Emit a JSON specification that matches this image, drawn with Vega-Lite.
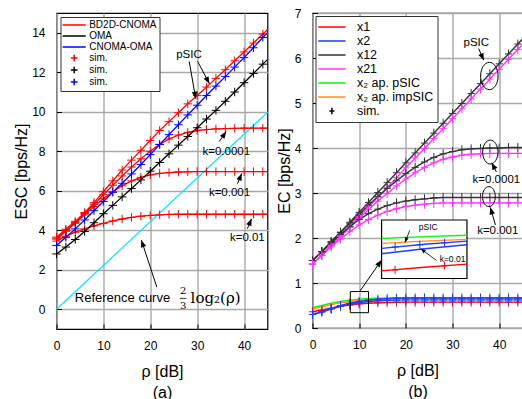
{
"$schema": "https://vega.github.io/schema/vega-lite/v6.json",
"padding": {"left": 11.5, "top": 6, "right": 0, "bottom": 0},
"background": "white",
"spacing": 45,
"bounds": "flush",
"resolve": {"scale": {"x": "independent", "y": "independent", "color": "independent", "size": "independent"}, "legend": {"color": "independent"}},
"config": {
  "font": "Liberation Sans",
  "view": {"stroke": "black", "strokeWidth": 1.2},
  "axis": {"domain": false, "tickColor": "black", "tickSize": -5, "tickWidth": 1, "labelFontSize": 12, "labelColor": "black", "labelPadding": 16.5, "labelFlush": false, "labelOverlap": false, "titleFontSize": 16, "titleFontWeight": "normal", "titleColor": "black", "gridColor": "#a8a8a8", "gridWidth": 1.4},
  "text": {"color": "black"}
},
"datasets": {
  "ref": [{"x": 0, "y": 0}, {"x": 45, "y": 9.97}],
  "Lmeta": [
    {"s": "r0", "leg": "BD2D-CNOMA", "sim": "sim1"},
    {"s": "r4", "leg": "BD2D-CNOMA", "sim": "sim1"},
    {"s": "r3", "leg": "BD2D-CNOMA", "sim": "sim1"},
    {"s": "r2", "leg": "BD2D-CNOMA", "sim": "sim1"},
    {"s": "k", "leg": "OMA", "sim": "sim2"},
    {"s": "b", "leg": "CNOMA-OMA", "sim": "sim3"}
  ],
  "L": [
    {"s":"r0","x":0,"y":3.65},{"s":"r0","x":2,"y":4.05},{"s":"r0","x":4,"y":4.45},{"s":"r0","x":6,"y":4.9},{"s":"r0","x":8,"y":5.4},{"s":"r0","x":10,"y":5.95},{"s":"r0","x":12,"y":6.5},{"s":"r0","x":14,"y":7.05},{"s":"r0","x":16,"y":7.55},{"s":"r0","x":18,"y":8.05},{"s":"r0","x":20,"y":8.55},{"s":"r0","x":22,"y":9.05},{"s":"r0","x":24,"y":9.5},{"s":"r0","x":26,"y":9.95},{"s":"r0","x":28,"y":10.4},{"s":"r0","x":30,"y":10.82},{"s":"r0","x":32,"y":11.25},{"s":"r0","x":34,"y":11.69},{"s":"r0","x":36,"y":12.13},{"s":"r0","x":38,"y":12.58},{"s":"r0","x":40,"y":13.03},{"s":"r0","x":42,"y":13.48},{"s":"r0","x":44,"y":13.93},{"s":"r0","x":45,"y":14.15},
    {"s":"r4","x":0,"y":3.6},{"s":"r4","x":2,"y":4.0},{"s":"r4","x":4,"y":4.4},{"s":"r4","x":6,"y":4.85},{"s":"r4","x":8,"y":5.32},{"s":"r4","x":10,"y":5.8},{"s":"r4","x":12,"y":6.28},{"s":"r4","x":14,"y":6.75},{"s":"r4","x":16,"y":7.2},{"s":"r4","x":18,"y":7.62},{"s":"r4","x":20,"y":8.0},{"s":"r4","x":22,"y":8.35},{"s":"r4","x":24,"y":8.62},{"s":"r4","x":26,"y":8.82},{"s":"r4","x":28,"y":8.96},{"s":"r4","x":30,"y":9.05},{"s":"r4","x":32,"y":9.1},{"s":"r4","x":34,"y":9.13},{"s":"r4","x":36,"y":9.15},{"s":"r4","x":38,"y":9.16},{"s":"r4","x":40,"y":9.17},{"s":"r4","x":42,"y":9.17},{"s":"r4","x":44,"y":9.17},{"s":"r4","x":45,"y":9.17},
    {"s":"r3","x":0,"y":3.55},{"s":"r3","x":2,"y":3.95},{"s":"r3","x":4,"y":4.35},{"s":"r3","x":6,"y":4.78},{"s":"r3","x":8,"y":5.2},{"s":"r3","x":10,"y":5.6},{"s":"r3","x":12,"y":5.95},{"s":"r3","x":14,"y":6.25},{"s":"r3","x":16,"y":6.5},{"s":"r3","x":18,"y":6.68},{"s":"r3","x":20,"y":6.8},{"s":"r3","x":22,"y":6.88},{"s":"r3","x":24,"y":6.92},{"s":"r3","x":26,"y":6.95},{"s":"r3","x":28,"y":6.96},{"s":"r3","x":30,"y":6.97},{"s":"r3","x":32,"y":6.97},{"s":"r3","x":34,"y":6.97},{"s":"r3","x":36,"y":6.97},{"s":"r3","x":38,"y":6.97},{"s":"r3","x":40,"y":6.97},{"s":"r3","x":42,"y":6.97},{"s":"r3","x":44,"y":6.97},{"s":"r3","x":45,"y":6.97},
    {"s":"r2","x":0,"y":3.45},{"s":"r2","x":2,"y":3.7},{"s":"r2","x":4,"y":3.9},{"s":"r2","x":6,"y":4.07},{"s":"r2","x":8,"y":4.22},{"s":"r2","x":10,"y":4.35},{"s":"r2","x":12,"y":4.47},{"s":"r2","x":14,"y":4.57},{"s":"r2","x":16,"y":4.65},{"s":"r2","x":18,"y":4.71},{"s":"r2","x":20,"y":4.75},{"s":"r2","x":22,"y":4.78},{"s":"r2","x":24,"y":4.8},{"s":"r2","x":26,"y":4.81},{"s":"r2","x":28,"y":4.81},{"s":"r2","x":30,"y":4.81},{"s":"r2","x":32,"y":4.81},{"s":"r2","x":34,"y":4.81},{"s":"r2","x":36,"y":4.81},{"s":"r2","x":38,"y":4.81},{"s":"r2","x":40,"y":4.81},{"s":"r2","x":42,"y":4.81},{"s":"r2","x":44,"y":4.81},{"s":"r2","x":45,"y":4.81},
    {"s":"k","x":0,"y":2.8},{"s":"k","x":2,"y":3.15},{"s":"k","x":4,"y":3.53},{"s":"k","x":6,"y":3.94},{"s":"k","x":8,"y":4.38},{"s":"k","x":10,"y":4.84},{"s":"k","x":12,"y":5.26},{"s":"k","x":14,"y":5.69},{"s":"k","x":16,"y":6.11},{"s":"k","x":18,"y":6.55},{"s":"k","x":20,"y":6.99},{"s":"k","x":22,"y":7.43},{"s":"k","x":24,"y":7.87},{"s":"k","x":26,"y":8.31},{"s":"k","x":28,"y":8.75},{"s":"k","x":30,"y":9.19},{"s":"k","x":32,"y":9.63},{"s":"k","x":34,"y":10.07},{"s":"k","x":36,"y":10.53},{"s":"k","x":38,"y":11.0},{"s":"k","x":40,"y":11.47},{"s":"k","x":42,"y":11.94},{"s":"k","x":44,"y":12.41},{"s":"k","x":45,"y":12.64},
    {"s":"b","x":0,"y":3.23},{"s":"b","x":2,"y":3.64},{"s":"b","x":4,"y":4.07},{"s":"b","x":6,"y":4.52},{"s":"b","x":8,"y":4.99},{"s":"b","x":10,"y":5.46},{"s":"b","x":12,"y":5.92},{"s":"b","x":14,"y":6.38},{"s":"b","x":16,"y":6.85},{"s":"b","x":18,"y":7.33},{"s":"b","x":20,"y":7.83},{"s":"b","x":22,"y":8.34},{"s":"b","x":24,"y":8.84},{"s":"b","x":26,"y":9.34},{"s":"b","x":28,"y":9.84},{"s":"b","x":30,"y":10.33},{"s":"b","x":32,"y":10.82},{"s":"b","x":34,"y":11.3},{"s":"b","x":36,"y":11.78},{"s":"b","x":38,"y":12.26},{"s":"b","x":40,"y":12.74},{"s":"b","x":42,"y":13.24},{"s":"b","x":44,"y":13.76},{"s":"b","x":45,"y":14.0}
  ],
  "Ltxt": [{"x":28.26,"y":12.87,"t":"pSIC"},{"x":36.2,"y":7.98,"t":"k=0.0001"},{"x":36.9,"y":5.9,"t":"k=0.001"},{"x":40.7,"y":3.62,"t":"k=0.01"}],
  "Lref": [{"x":3.9,"y":0.56,"t":"Reference curve"}],
  "Lfrac": [{"x":27.0,"y":0.9,"t":"2"},{"x":27.0,"y":0.18,"t":"3"}],
  "Llog": [{"x":28.6,"y":0.56,"t":"log₂(ρ)"}],
  "Lbar": [{"x":26.3,"x2":27.7,"y":0.55}],
  "Larr": [
    {"x":28.3,"y":12.55,"x2":29.7,"y2":10.66},
    {"x":30.1,"y":12.55,"x2":32.6,"y2":11.42},
    {"x":34.7,"y":8.49,"x2":36.2,"y2":9.0},
    {"x":38.6,"y":6.36,"x2":39.5,"y2":6.87},
    {"x":40.7,"y":4.08,"x2":41.6,"y2":4.58},
    {"x":21.4,"y":1.12,"x2":18.1,"y2":3.5}
  ],
  "Rmeta": [
    {"s":"a0","leg":"x12"},{"s":"a4","leg":"x12"},{"s":"a3","leg":"x12"},
    {"s":"b0","leg":"x21"},{"s":"b4","leg":"x21"},{"s":"b3","leg":"x21"},
    {"s":"x1","leg":"x1"},{"s":"x2","leg":"x2"},{"s":"x2b","leg":"x2"},
    {"s":"g","leg":"x₂ ap. pSIC"},{"s":"o","leg":"x₂ ap. impSIC"}
  ],
  "R": [
    {"s":"a0","x":0,"y":1.5},{"s":"a0","x":2,"y":1.7},{"s":"a0","x":4,"y":1.92},{"s":"a0","x":6,"y":2.13},{"s":"a0","x":8,"y":2.35},{"s":"a0","x":10,"y":2.57},{"s":"a0","x":12,"y":2.79},{"s":"a0","x":14,"y":3.01},{"s":"a0","x":16,"y":3.23},{"s":"a0","x":18,"y":3.45},{"s":"a0","x":20,"y":3.67},{"s":"a0","x":22,"y":3.89},{"s":"a0","x":24,"y":4.11},{"s":"a0","x":26,"y":4.33},{"s":"a0","x":28,"y":4.55},{"s":"a0","x":30,"y":4.77},{"s":"a0","x":32,"y":4.99},{"s":"a0","x":34,"y":5.21},{"s":"a0","x":36,"y":5.43},{"s":"a0","x":38,"y":5.65},{"s":"a0","x":40,"y":5.87},{"s":"a0","x":42,"y":6.09},{"s":"a0","x":44,"y":6.31},{"s":"a0","x":45,"y":6.42},
    {"s":"b0","x":0,"y":1.42},{"s":"b0","x":2,"y":1.62},{"s":"b0","x":4,"y":1.84},{"s":"b0","x":6,"y":2.05},{"s":"b0","x":8,"y":2.26},{"s":"b0","x":10,"y":2.48},{"s":"b0","x":12,"y":2.69},{"s":"b0","x":14,"y":2.91},{"s":"b0","x":16,"y":3.12},{"s":"b0","x":18,"y":3.34},{"s":"b0","x":20,"y":3.56},{"s":"b0","x":22,"y":3.78},{"s":"b0","x":24,"y":3.99},{"s":"b0","x":26,"y":4.21},{"s":"b0","x":28,"y":4.43},{"s":"b0","x":30,"y":4.65},{"s":"b0","x":32,"y":4.87},{"s":"b0","x":34,"y":5.09},{"s":"b0","x":36,"y":5.31},{"s":"b0","x":38,"y":5.53},{"s":"b0","x":40,"y":5.75},{"s":"b0","x":42,"y":5.97},{"s":"b0","x":44,"y":6.19},{"s":"b0","x":45,"y":6.3},
    {"s":"a4","x":0,"y":1.5},{"s":"a4","x":2,"y":1.7},{"s":"a4","x":4,"y":1.91},{"s":"a4","x":6,"y":2.12},{"s":"a4","x":8,"y":2.33},{"s":"a4","x":10,"y":2.53},{"s":"a4","x":12,"y":2.73},{"s":"a4","x":14,"y":2.92},{"s":"a4","x":16,"y":3.1},{"s":"a4","x":18,"y":3.27},{"s":"a4","x":20,"y":3.43},{"s":"a4","x":22,"y":3.57},{"s":"a4","x":24,"y":3.69},{"s":"a4","x":26,"y":3.79},{"s":"a4","x":28,"y":3.87},{"s":"a4","x":30,"y":3.92},{"s":"a4","x":32,"y":3.96},{"s":"a4","x":34,"y":3.98},{"s":"a4","x":36,"y":3.99},{"s":"a4","x":38,"y":4.0},{"s":"a4","x":40,"y":4.0},{"s":"a4","x":42,"y":4.01},{"s":"a4","x":44,"y":4.01},{"s":"a4","x":45,"y":4.01},
    {"s":"b4","x":0,"y":1.42},{"s":"b4","x":2,"y":1.62},{"s":"b4","x":4,"y":1.83},{"s":"b4","x":6,"y":2.03},{"s":"b4","x":8,"y":2.24},{"s":"b4","x":10,"y":2.44},{"s":"b4","x":12,"y":2.63},{"s":"b4","x":14,"y":2.82},{"s":"b4","x":16,"y":2.99},{"s":"b4","x":18,"y":3.16},{"s":"b4","x":20,"y":3.31},{"s":"b4","x":22,"y":3.45},{"s":"b4","x":24,"y":3.57},{"s":"b4","x":26,"y":3.67},{"s":"b4","x":28,"y":3.75},{"s":"b4","x":30,"y":3.8},{"s":"b4","x":32,"y":3.84},{"s":"b4","x":34,"y":3.86},{"s":"b4","x":36,"y":3.87},{"s":"b4","x":38,"y":3.88},{"s":"b4","x":40,"y":3.88},{"s":"b4","x":42,"y":3.88},{"s":"b4","x":44,"y":3.88},{"s":"b4","x":45,"y":3.88},
    {"s":"a3","x":0,"y":1.5},{"s":"a3","x":2,"y":1.69},{"s":"a3","x":4,"y":1.89},{"s":"a3","x":6,"y":2.08},{"s":"a3","x":8,"y":2.25},{"s":"a3","x":10,"y":2.41},{"s":"a3","x":12,"y":2.54},{"s":"a3","x":14,"y":2.64},{"s":"a3","x":16,"y":2.72},{"s":"a3","x":18,"y":2.78},{"s":"a3","x":20,"y":2.82},{"s":"a3","x":22,"y":2.85},{"s":"a3","x":24,"y":2.87},{"s":"a3","x":26,"y":2.89},{"s":"a3","x":28,"y":2.9},{"s":"a3","x":30,"y":2.9},{"s":"a3","x":32,"y":2.9},{"s":"a3","x":34,"y":2.9},{"s":"a3","x":36,"y":2.9},{"s":"a3","x":38,"y":2.9},{"s":"a3","x":40,"y":2.9},{"s":"a3","x":42,"y":2.9},{"s":"a3","x":44,"y":2.9},{"s":"a3","x":45,"y":2.9},
    {"s":"b3","x":0,"y":1.42},{"s":"b3","x":2,"y":1.61},{"s":"b3","x":4,"y":1.8},{"s":"b3","x":6,"y":1.98},{"s":"b3","x":8,"y":2.14},{"s":"b3","x":10,"y":2.29},{"s":"b3","x":12,"y":2.41},{"s":"b3","x":14,"y":2.51},{"s":"b3","x":16,"y":2.59},{"s":"b3","x":18,"y":2.65},{"s":"b3","x":20,"y":2.7},{"s":"b3","x":22,"y":2.73},{"s":"b3","x":24,"y":2.75},{"s":"b3","x":26,"y":2.77},{"s":"b3","x":28,"y":2.78},{"s":"b3","x":30,"y":2.78},{"s":"b3","x":32,"y":2.78},{"s":"b3","x":34,"y":2.78},{"s":"b3","x":36,"y":2.78},{"s":"b3","x":38,"y":2.78},{"s":"b3","x":40,"y":2.78},{"s":"b3","x":42,"y":2.78},{"s":"b3","x":44,"y":2.78},{"s":"b3","x":45,"y":2.78},
    {"s":"x1","x":0,"y":0.36},{"s":"x1","x":2,"y":0.4},{"s":"x1","x":4,"y":0.44},{"s":"x1","x":6,"y":0.48},{"s":"x1","x":8,"y":0.51},{"s":"x1","x":10,"y":0.535},{"s":"x1","x":12,"y":0.55},{"s":"x1","x":14,"y":0.56},{"s":"x1","x":16,"y":0.567},{"s":"x1","x":18,"y":0.572},{"s":"x1","x":20,"y":0.575},{"s":"x1","x":22,"y":0.575},{"s":"x1","x":24,"y":0.575},{"s":"x1","x":26,"y":0.575},{"s":"x1","x":28,"y":0.575},{"s":"x1","x":30,"y":0.575},{"s":"x1","x":32,"y":0.575},{"s":"x1","x":34,"y":0.575},{"s":"x1","x":36,"y":0.575},{"s":"x1","x":38,"y":0.575},{"s":"x1","x":40,"y":0.575},{"s":"x1","x":42,"y":0.575},{"s":"x1","x":44,"y":0.575},{"s":"x1","x":45,"y":0.575},
    {"s":"x2b","x":0,"y":0.3},{"s":"x2b","x":2,"y":0.355},{"s":"x2b","x":4,"y":0.42},{"s":"x2b","x":6,"y":0.48},{"s":"x2b","x":8,"y":0.53},{"s":"x2b","x":10,"y":0.565},{"s":"x2b","x":12,"y":0.59},{"s":"x2b","x":14,"y":0.605},{"s":"x2b","x":16,"y":0.615},{"s":"x2b","x":18,"y":0.62},{"s":"x2b","x":20,"y":0.625},{"s":"x2b","x":22,"y":0.625},{"s":"x2b","x":24,"y":0.625},{"s":"x2b","x":26,"y":0.625},{"s":"x2b","x":28,"y":0.625},{"s":"x2b","x":30,"y":0.625},{"s":"x2b","x":32,"y":0.625},{"s":"x2b","x":34,"y":0.625},{"s":"x2b","x":36,"y":0.625},{"s":"x2b","x":38,"y":0.625},{"s":"x2b","x":40,"y":0.625},{"s":"x2b","x":42,"y":0.625},{"s":"x2b","x":44,"y":0.625},{"s":"x2b","x":45,"y":0.625},
    {"s":"g","x":0,"y":0.45},{"s":"g","x":2,"y":0.5},{"s":"g","x":4,"y":0.55},{"s":"g","x":6,"y":0.59},{"s":"g","x":8,"y":0.62},{"s":"g","x":10,"y":0.64},{"s":"g","x":12,"y":0.655},{"s":"g","x":14,"y":0.665},{"s":"g","x":16,"y":0.67},{"s":"g","x":18,"y":0.672},{"s":"g","x":45,"y":0.672},
    {"s":"o","x":0,"y":0.42},{"s":"o","x":2,"y":0.47},{"s":"o","x":4,"y":0.52},{"s":"o","x":6,"y":0.56},{"s":"o","x":8,"y":0.59},{"s":"o","x":10,"y":0.61},{"s":"o","x":12,"y":0.625},{"s":"o","x":14,"y":0.635},{"s":"o","x":16,"y":0.64},{"s":"o","x":18,"y":0.645},{"s":"o","x":45,"y":0.645},
    {"s":"x2","x":0,"y":0.3},{"s":"x2","x":2,"y":0.36},{"s":"x2","x":4,"y":0.43},{"s":"x2","x":6,"y":0.5},{"s":"x2","x":8,"y":0.55},{"s":"x2","x":10,"y":0.59},{"s":"x2","x":12,"y":0.62},{"s":"x2","x":14,"y":0.64},{"s":"x2","x":16,"y":0.652},{"s":"x2","x":18,"y":0.66},{"s":"x2","x":20,"y":0.664},{"s":"x2","x":22,"y":0.666},{"s":"x2","x":24,"y":0.666},{"s":"x2","x":26,"y":0.666},{"s":"x2","x":28,"y":0.666},{"s":"x2","x":30,"y":0.666},{"s":"x2","x":32,"y":0.666},{"s":"x2","x":34,"y":0.666},{"s":"x2","x":36,"y":0.666},{"s":"x2","x":38,"y":0.666},{"s":"x2","x":40,"y":0.666},{"s":"x2","x":42,"y":0.666},{"s":"x2","x":44,"y":0.666},{"s":"x2","x":45,"y":0.666}
  ],
  "Rin": [
    {"s":"g","x":14.8,"y":1.99},{"s":"g","x":24,"y":2.03},{"s":"g","x":33.1,"y":2.06},
    {"s":"o","x":14.8,"y":1.88},{"s":"o","x":24,"y":1.93},{"s":"o","x":33.1,"y":1.97},
    {"s":"x2","x":14.8,"y":1.77},{"s":"x2","x":24,"y":1.86},{"s":"x2","x":33.1,"y":1.93},
    {"s":"x2b","x":14.8,"y":1.65},{"s":"x2b","x":24,"y":1.76},{"s":"x2b","x":33.1,"y":1.85},
    {"s":"x1","x":14.8,"y":1.27},{"s":"x1","x":24,"y":1.35},{"s":"x1","x":33.1,"y":1.42}
  ],
  "RinM": [
    {"s":"x2","x":17.7,"y":1.8},{"s":"x2","x":23,"y":1.85},{"s":"x2","x":28.3,"y":1.895},
    {"s":"x1","x":17.7,"y":1.29},{"s":"x1","x":28.3,"y":1.385}
  ],
  "Rbox": [{"x":8.1,"x2":12.0,"y":0.34,"y2":0.81}],
  "Rinset": [{"x":14.8,"x2":33.1,"y":1.1,"y2":2.4}],
  "Rell": [{"x":37.9,"y":5.6,"t":"p"},{"x":38.1,"y":3.91,"t":"k4"},{"x":37.8,"y":2.92,"t":"k3"}],
  "Rtxt": [{"x":35.1,"y":6.34,"t":"pSIC"},{"x":39.4,"y":3.29,"t":"k=0.0001"},{"x":39.7,"y":2.16,"t":"k=0.001"}],
  "Rtxt2": [{"x":24.8,"y":2.24,"t":"pSIC"},{"x":30.0,"y":1.54,"t":"k=0.01"}],
  "Rarr": [
    {"x":35.6,"y":6.21,"x2":36.7,"y2":5.95},
    {"x":39.4,"y":3.47,"x2":38.4,"y2":3.67},
    {"x":39.2,"y":2.29,"x2":38.1,"y2":2.68},
    {"x":10.1,"y":0.81,"x2":14.8,"y2":1.51}
  ],
  "Rarr2": [
    {"x":20.85,"y":2.17,"x2":19.8,"y2":1.9},
    {"x":26.6,"y":1.5,"x2":23.2,"y2":1.76}
  ]
},
"hconcat": [
  {
    "width": 211, "height": 316,
    "layer": [
      {"data": {"name": "ref"}, "mark": {"type": "line", "color": "#00e5ff", "strokeWidth": 1.2},
       "encoding": {
         "x": {"field": "x", "type": "quantitative", "scale": {"domain": [0, 45], "nice": false, "zero": false}, "title": ["ρ [dB]", "(a)"],
               "axis": {"values": [0,5,10,15,20,25,30,35,40], "labelExpr": "datum.value % 10 == 0 ? datum.label : ''",
                        "gridDash": {"condition": {"test": "datum.value % 10 != 0", "value": [2, 2]}, "value": []},
                        "gridColor": {"condition": {"test": "datum.value % 10 != 0", "value": "#c4c4c4"}, "value": "#a8a8a8"},
                        "gridWidth": {"condition": {"test": "datum.value % 10 != 0", "value": 1}, "value": 1.4},
                        "titleLineHeight": 21, "titleBaseline": "top", "titleY": 34}},
         "y": {"field": "y", "type": "quantitative", "scale": {"domain": [-1, 15], "nice": false, "zero": false}, "title": "ESC [bps/Hz]",
               "axis": {"values": [0,1,2,3,4,5,6,7,8,9,10,11,12,13,14], "labelExpr": "datum.value % 2 == 0 ? datum.label : ''",
                        "gridOpacity": {"condition": {"test": "datum.value % 2 != 0", "value": 0}, "value": 1},
                        "titleX": -35.5, "titleBaseline": "middle"}}
       }},
      {"data": {"name": "L"},
       "transform": [{"lookup": "s", "from": {"data": {"name": "Lmeta"}, "key": "s", "fields": ["leg", "sim"]}}],
       "mark": {"type": "line", "strokeWidth": 1.3},
       "encoding": {
         "x": {"field": "x", "type": "quantitative"},
         "y": {"field": "y", "type": "quantitative"},
         "detail": {"field": "s"},
         "color": {"field": "leg", "type": "nominal",
                   "scale": {"domain": ["BD2D-CNOMA", "OMA", "CNOMA-OMA", "sim1", "sim2", "sim3"], "range": ["#ff0000", "#000000", "#0000ff", "#ff0000", "#000000", "#0000ff"]},
                   "legend": {"title": null, "orient": "top-left", "offset": 4, "fillColor": "white", "strokeColor": "#333333", "padding": 2.5,
                              "labelFontSize": 10, "labelOffset": 9.5, "rowPadding": -1.5, "symbolSize": 85, "symbolOffset": 5.7, "symbolStrokeWidth": 1.5,
                              "labelExpr": "indexof(datum.label, 'sim') == 0 ? 'sim.' : datum.label",
                              "encode": {"symbols": {"update": {"shape": {"signal": "indexof(datum.value, 'sim') == 0 ? 'M-0.72,0L0.72,0M0,-0.72L0,0.72' : 'M-2.5,0L2.5,0'"}}}}}}
       }},
      {"data": {"name": "L"},
       "transform": [{"lookup": "s", "from": {"data": {"name": "Lmeta"}, "key": "s", "fields": ["leg", "sim"]}}, {"filter": "datum.x % 2 == 0"}],
       "mark": {"type": "point", "shape": "M-1,0L1,0M0,-1L0,1", "size": 72, "filled": false, "strokeWidth": 1, "opacity": 1},
       "encoding": {
         "x": {"field": "x", "type": "quantitative"},
         "y": {"field": "y", "type": "quantitative"},
         "color": {"field": "sim", "type": "nominal"}
       }},
      {"data": {"name": "Ltxt"}, "mark": {"type": "text", "fontSize": 11.5},
       "encoding": {"x": {"field": "x", "type": "quantitative"}, "y": {"field": "y", "type": "quantitative"}, "text": {"field": "t"}}},
      {"data": {"name": "Lref"}, "mark": {"type": "text", "fontSize": 13, "align": "left"},
       "encoding": {"x": {"field": "x", "type": "quantitative"}, "y": {"field": "y", "type": "quantitative"}, "text": {"field": "t"}}},
      {"data": {"name": "Lfrac"}, "mark": {"type": "text", "fontSize": 10, "font": "DejaVu Serif"},
       "encoding": {"x": {"field": "x", "type": "quantitative"}, "y": {"field": "y", "type": "quantitative"}, "text": {"field": "t"}}},
      {"data": {"name": "Llog"}, "mark": {"type": "text", "fontSize": 15, "font": "DejaVu Serif", "align": "left"},
       "encoding": {"x": {"field": "x", "type": "quantitative"}, "y": {"field": "y", "type": "quantitative"}, "text": {"field": "t"}}},
      {"data": {"name": "Lbar"}, "mark": {"type": "rule", "color": "black", "strokeWidth": 0.8},
       "encoding": {"x": {"field": "x", "type": "quantitative"}, "x2": {"field": "x2"}, "y": {"field": "y", "type": "quantitative"}}},
      {"data": {"name": "Larr"}, "mark": {"type": "rule", "color": "black", "strokeWidth": 1},
       "encoding": {"x": {"field": "x", "type": "quantitative"}, "y": {"field": "y", "type": "quantitative"}, "x2": {"field": "x2"}, "y2": {"field": "y2"}}},
      {"data": {"name": "Larr"},
       "transform": [{"calculate": "atan2((datum.x2 - datum.x) * 4.689, (datum.y2 - datum.y) * 19.75) * 180 / PI", "as": "ang"}],
       "mark": {"type": "point", "shape": "M0,0L-0.4,1L0.4,1Z", "size": 196, "filled": true, "color": "black", "opacity": 1},
       "encoding": {"x": {"field": "x2", "type": "quantitative"}, "y": {"field": "y2", "type": "quantitative"}, "angle": {"field": "ang", "type": "quantitative", "scale": null}}}
    ]
  },
  {
    "width": 210, "height": 315,
    "layer": [
      {"data": {"name": "R"},
       "transform": [{"lookup": "s", "from": {"data": {"name": "Rmeta"}, "key": "s", "fields": ["leg"]}}],
       "mark": {"type": "line", "strokeWidth": 1.4},
       "encoding": {
         "x": {"field": "x", "type": "quantitative", "scale": {"domain": [0, 45], "nice": false, "zero": false}, "title": ["ρ [dB]", "(b)"],
               "axis": {"values": [0,5,10,15,20,25,30,35,40], "labelExpr": "datum.value % 10 == 0 ? datum.label : ''",
                        "gridDash": {"condition": {"test": "datum.value % 10 != 0", "value": [2, 2]}, "value": []},
                        "gridColor": {"condition": {"test": "datum.value % 10 != 0", "value": "#c4c4c4"}, "value": "#a8a8a8"},
                        "gridWidth": {"condition": {"test": "datum.value % 10 != 0", "value": 1}, "value": 1.4},
                        "titleLineHeight": 21, "titleBaseline": "top", "titleY": 34}},
         "y": {"field": "y", "type": "quantitative", "scale": {"domain": [0, 7], "nice": false, "zero": false}, "title": "EC [bps/Hz]",
               "axis": {"values": [0,1,2,3,4,5,6,7], "titleX": -28, "titleBaseline": "middle"}},
         "detail": {"field": "s"},
         "color": {"field": "leg", "type": "nominal",
                   "scale": {"domain": ["x1", "x2", "x12", "x21", "x₂ ap. pSIC", "x₂ ap. impSIC", "sim."], "range": ["#ff0000", "#1f3cff", "#333333", "#ff33ff", "#11ee11", "#ff8c1a", "#000000"]},
                   "legend": {"title": null, "orient": "top-left", "offset": 3, "fillColor": "white", "strokeColor": "#333333", "padding": 4,
                              "labelFontSize": 12.5, "labelOffset": 18, "rowPadding": -1.1, "symbolSize": 144, "symbolOffset": 5.4, "symbolStrokeWidth": 1.5,
                              "encode": {"symbols": {"update": {"shape": {"signal": "datum.value == 'sim.' ? 'M-0.42,0L0.42,0M0,-0.55L0,0.55' : 'M-2.28,0L2.28,0'"}}}}}}
       }},
      {"data": {"name": "R"},
       "transform": [{"lookup": "s", "from": {"data": {"name": "Rmeta"}, "key": "s", "fields": ["leg"]}}, {"filter": "datum.s != 'g' && datum.s != 'o' && datum.x % 2 == 0"}],
       "mark": {"type": "point", "shape": "M-0.8,0L0.8,0M0,-1L0,1", "size": 81, "filled": false, "strokeWidth": 1, "opacity": 1},
       "encoding": {
         "x": {"field": "x", "type": "quantitative"},
         "y": {"field": "y", "type": "quantitative"},
         "color": {"field": "leg", "type": "nominal"}
       }},
      {"data": {"name": "Rell"}, "mark": {"type": "point", "shape": "M0,-1A0.64,1,0,1,1,0,1A0.64,1,0,1,1,0,-1Z", "filled": false, "color": "black", "strokeWidth": 1, "opacity": 1},
       "encoding": {"x": {"field": "x", "type": "quantitative"}, "y": {"field": "y", "type": "quantitative"},
                    "size": {"field": "t", "type": "ordinal", "scale": {"domain": ["p", "k4", "k3"], "range": [745, 400, 290]}, "legend": null}}},
      {"data": {"name": "Rbox"}, "mark": {"type": "rect", "fillOpacity": 0, "stroke": "black", "strokeWidth": 1},
       "encoding": {"x": {"field": "x", "type": "quantitative"}, "x2": {"field": "x2"}, "y": {"field": "y", "type": "quantitative"}, "y2": {"field": "y2"}}},
      {"data": {"name": "Rinset"}, "mark": {"type": "rect", "fill": "white", "stroke": "black", "strokeWidth": 1.2},
       "encoding": {"x": {"field": "x", "type": "quantitative"}, "x2": {"field": "x2"}, "y": {"field": "y", "type": "quantitative"}, "y2": {"field": "y2"}}},
      {"data": {"name": "Rin"},
       "transform": [{"lookup": "s", "from": {"data": {"name": "Rmeta"}, "key": "s", "fields": ["leg"]}}],
       "mark": {"type": "line", "strokeWidth": 1.4},
       "encoding": {"x": {"field": "x", "type": "quantitative"}, "y": {"field": "y", "type": "quantitative"}, "detail": {"field": "s"}, "color": {"field": "leg", "type": "nominal"}}},
      {"data": {"name": "RinM"},
       "transform": [{"lookup": "s", "from": {"data": {"name": "Rmeta"}, "key": "s", "fields": ["leg"]}}],
       "mark": {"type": "point", "shape": "M-0.8,0L0.8,0M0,-1L0,1", "size": 64, "filled": false, "strokeWidth": 1, "opacity": 1},
       "encoding": {"x": {"field": "x", "type": "quantitative"}, "y": {"field": "y", "type": "quantitative"}, "color": {"field": "leg", "type": "nominal"}}},
      {"data": {"name": "Rtxt"}, "mark": {"type": "text", "fontSize": 11.5},
       "encoding": {"x": {"field": "x", "type": "quantitative"}, "y": {"field": "y", "type": "quantitative"}, "text": {"field": "t"}}},
      {"data": {"name": "Rtxt2"}, "mark": {"type": "text", "fontSize": 8.5},
       "encoding": {"x": {"field": "x", "type": "quantitative"}, "y": {"field": "y", "type": "quantitative"}, "text": {"field": "t"}}},
      {"data": {"name": "Rarr"}, "mark": {"type": "rule", "color": "black", "strokeWidth": 1},
       "encoding": {"x": {"field": "x", "type": "quantitative"}, "y": {"field": "y", "type": "quantitative"}, "x2": {"field": "x2"}, "y2": {"field": "y2"}}},
      {"data": {"name": "Rarr"},
       "transform": [{"calculate": "atan2((datum.x2 - datum.x) * 4.667, (datum.y2 - datum.y) * 45) * 180 / PI", "as": "ang"}],
       "mark": {"type": "point", "shape": "M0,0L-0.4,1L0.4,1Z", "size": 196, "filled": true, "color": "black", "opacity": 1},
       "encoding": {"x": {"field": "x2", "type": "quantitative"}, "y": {"field": "y2", "type": "quantitative"}, "angle": {"field": "ang", "type": "quantitative", "scale": null}}},
      {"data": {"name": "Rarr2"}, "mark": {"type": "rule", "color": "black", "strokeWidth": 0.8},
       "encoding": {"x": {"field": "x", "type": "quantitative"}, "y": {"field": "y", "type": "quantitative"}, "x2": {"field": "x2"}, "y2": {"field": "y2"}}},
      {"data": {"name": "Rarr2"},
       "transform": [{"calculate": "atan2((datum.x2 - datum.x) * 4.667, (datum.y2 - datum.y) * 45) * 180 / PI", "as": "ang"}],
       "mark": {"type": "point", "shape": "M0,0L-0.4,1L0.4,1Z", "size": 100, "filled": true, "color": "black", "opacity": 1},
       "encoding": {"x": {"field": "x2", "type": "quantitative"}, "y": {"field": "y2", "type": "quantitative"}, "angle": {"field": "ang", "type": "quantitative", "scale": null}}}
    ]
  }
]
}
